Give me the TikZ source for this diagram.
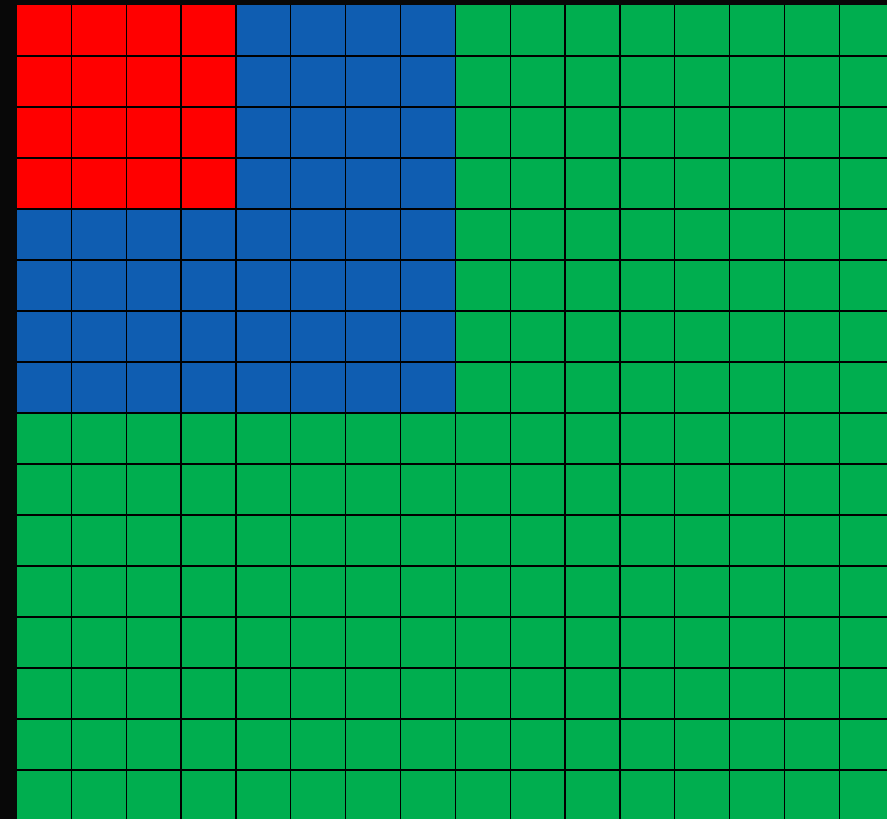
\documentclass[tikz,border=0pt]{standalone}
\definecolor{GridRed}{HTML}{FF0000}
\definecolor{GridBlue}{HTML}{0F5DB1}
\definecolor{GridGreen}{HTML}{00AE4F}
\definecolor{GridBlack}{HTML}{080808}
\usepackage{tikz}

\begin{document}
\begin{tikzpicture}[x=0.75pt, y=-0.75pt]
            % Frame (black margin)
            \fill[GridBlack] (0,0) rectangle (887,819);
            \useasboundingbox (0,0) rectangle (887,819);
            % Visible part of the grid
            \begin{scope}[shift={(16.5,5)}, x=41.14pt, y=-38.25pt]
               \clip (0,0) rectangle (15.87,15.96);
               % Green background: 16 x 16 cells
               \fill[GridGreen] (0,0) rectangle (16,16);
               % Blue block: 8 x 8 cells
               \fill[GridBlue] (0,0) rectangle (8,8);
               % Red block: 4 x 4 cells
               \fill[GridRed] (0,0) rectangle (4,4);
               % Cell borders
               \foreach \k in {1,...,15} {
                  \draw[black, line width=1pt] (\k,0) -- (\k,16);
                  \draw[black, line width=1pt] (0,\k) -- (16,\k);
               }
            \end{scope}
         \end{tikzpicture}
\end{document}
